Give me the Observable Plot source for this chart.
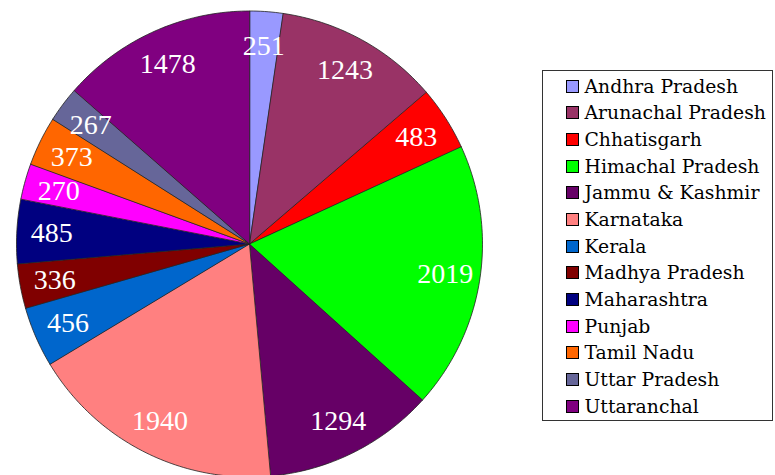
<!DOCTYPE html>
<html>
<head>
<meta charset="utf-8">
<script src="https://cdn.jsdelivr.net/npm/d3@7"></script>
<script src="https://cdn.jsdelivr.net/npm/@observablehq/plot@0.6"></script>
<style>
  html, body { margin: 0; padding: 0; background: #fff; }
  #wrap { position: relative; width: 775px; height: 475px; overflow: hidden; }
  #legend {
    position: absolute; left: 542px; top: 70px; width: 231px; height: 351px;
    box-sizing: border-box; border: 1.5px solid #333; background: #fff;
    padding: 2px 0 0 22.5px;
    font-family: "DejaVu Serif", serif; font-size: 18.8px; color: #000;
  }
  .row { height: 26.67px; display: flex; align-items: center; white-space: nowrap; }
  .sw { width: 11px; height: 11px; border: 1px solid #000; margin-right: 6px; flex: none; }
</style>
</head>
<body>
<div id="wrap"></div>
<script>
const states = ["Andhra Pradesh", "Arunachal Pradesh", "Chhatisgarh", "Himachal Pradesh",
  "Jammu & Kashmir", "Karnataka", "Kerala", "Madhya Pradesh", "Maharashtra", "Punjab",
  "Tamil Nadu", "Uttar Pradesh", "Uttaranchal"];
const values = [251, 1243, 483, 2019, 1294, 1940, 456, 336, 485, 270, 373, 267, 1478];
const colors = ["#9999FF", "#993366", "#FF0000", "#00FF00", "#660066", "#FF8080", "#0066CC",
  "#800000", "#000080", "#FF00FF", "#FF6600", "#666699", "#800080"];

const table = states.map((name, i) => ({name, value: values[i]}));
const arcs = d3.pie().sort(null).value(d => d.value)(table);

// slice outlines (angles clockwise from 12 o'clock)
const polys = [];
for (const a of arcs) {
  polys.push({name: a.data.name, x: 0, y: 0});
  const n = Math.max(2, Math.ceil((a.endAngle - a.startAngle) / (Math.PI / 180)));
  for (let k = 0; k <= n; k++) {
    const t = a.startAngle + (a.endAngle - a.startAngle) * k / n;
    polys.push({name: a.data.name, x: Math.sin(t), y: Math.cos(t)});
  }
}
const lr = 0.85;
const labels = arcs.map(a => {
  const t = (a.startAngle + a.endAngle) / 2;
  return {text: String(a.data.value), x: lr * Math.sin(t), y: lr * Math.cos(t)};
});

const cx = 249, cy = 243.5, R = 233;
const chart = Plot.plot({
  width: 775, height: 475,
  margin: 0,
  x: {domain: [-1, 1], range: [cx - R, cx + R], axis: null},
  y: {domain: [-1, 1], range: [cy + R, cy - R], axis: null},
  color: {domain: states, range: colors},
  style: {background: "transparent", overflow: "visible"},
  marks: [
    Plot.line(polys, {x: "x", y: "y", z: "name", fill: "name", stroke: "#222",
      strokeWidth: 0.8, curve: "linear-closed"}),
    Plot.text(labels, {x: "x", y: "y", text: "text", fill: "white",
      fontSize: 28, fontFamily: "'Liberation Serif', serif"})
  ]
});
const wrap = document.getElementById("wrap");
wrap.appendChild(chart);

const legend = document.createElement("div");
legend.id = "legend";
states.forEach((s, i) => {
  const row = document.createElement("div");
  row.className = "row";
  const sw = document.createElement("span");
  sw.className = "sw";
  sw.style.background = colors[i];
  row.appendChild(sw);
  row.appendChild(document.createTextNode(s));
  legend.appendChild(row);
});
wrap.appendChild(legend);
</script>
</body>
</html>
